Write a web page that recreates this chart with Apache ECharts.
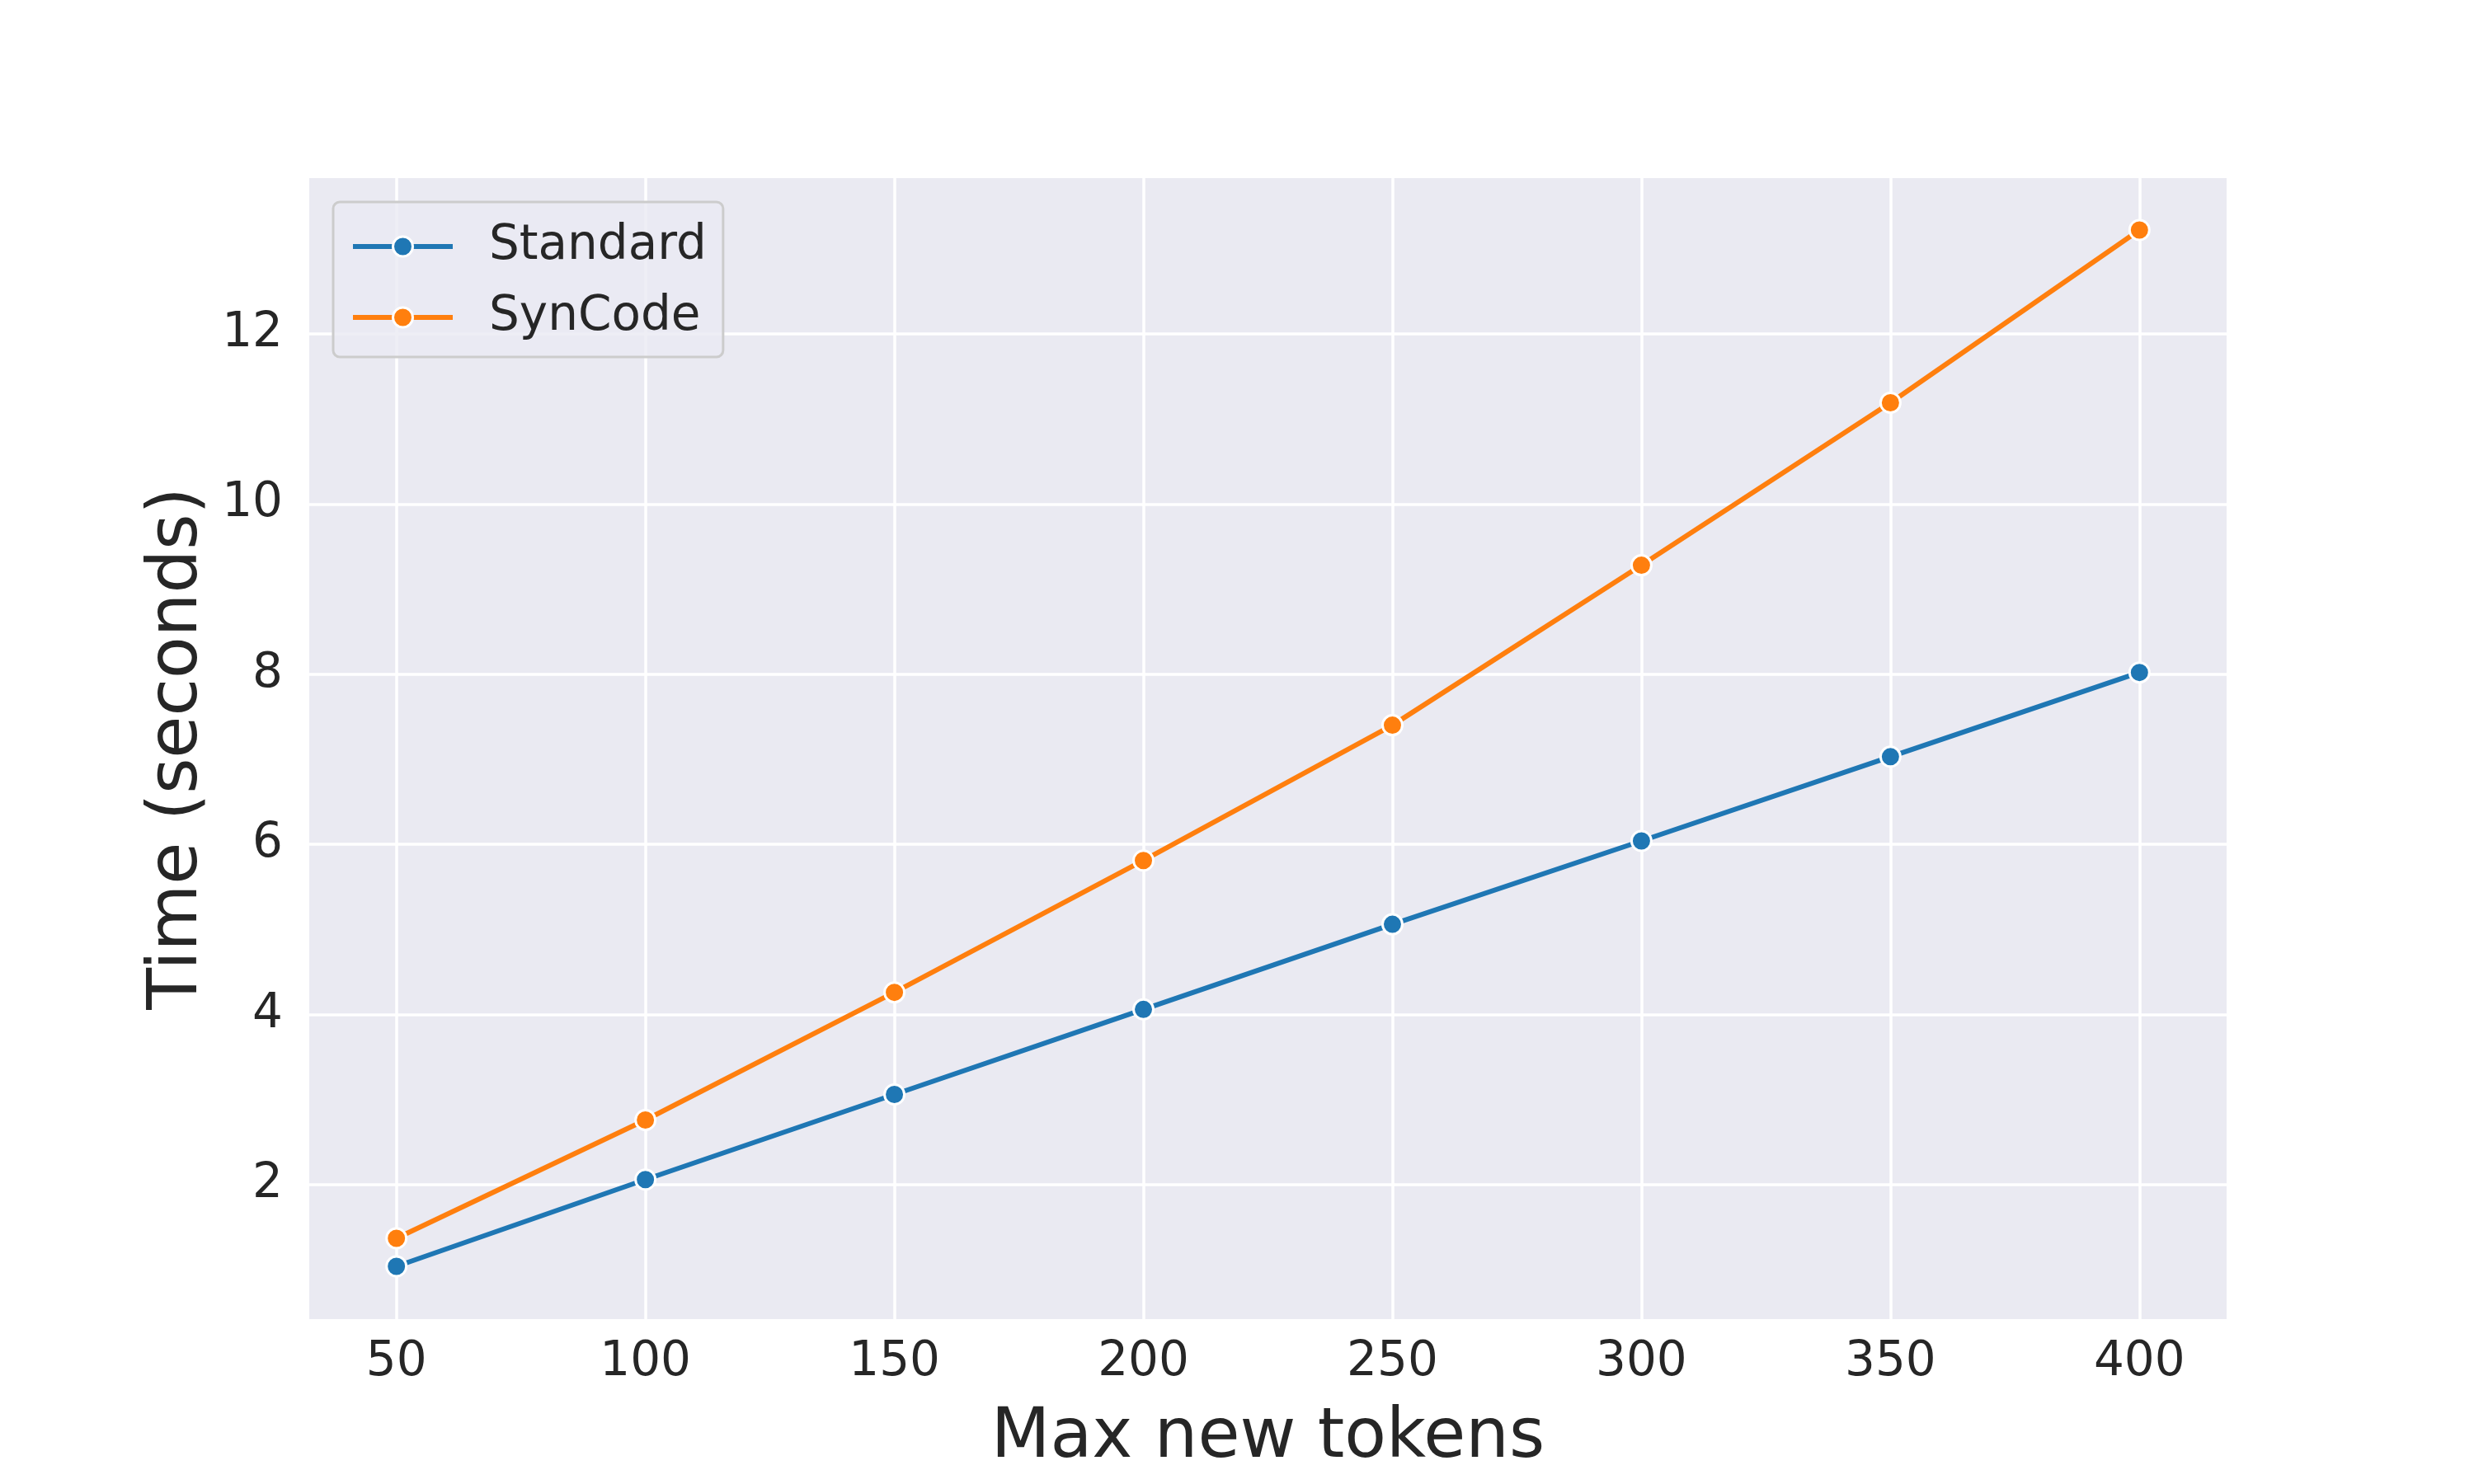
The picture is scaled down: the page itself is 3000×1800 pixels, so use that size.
<!DOCTYPE html>
<html>
<head>
<meta charset="utf-8">
<script src="https://cdn.jsdelivr.net/npm/echarts@6/dist/echarts.min.js"></script>
<style>
  html, body { margin: 0; padding: 0; background: #fff; }
  #chart { width: 3000px; height: 1800px; }
</style>
</head>
<body>
<div id="chart"></div>
<script>
// max new tokens on the x axis
const tokens = [50, 100, 150, 200, 250, 300, 350, 400]
// time in seconds
const standardTimes = [1.04, 2.06, 3.06, 4.06, 5.06, 6.04, 7.03, 8.02]
const syncodeTimes = [1.37, 2.76, 4.26, 5.81, 7.40, 9.28, 11.19, 13.22]
const xTicks = [50, 100, 150, 200, 250, 300, 350, 400]
const yTicks = [2, 4, 6, 8, 10, 12]

const font = 'DejaVu Sans'
const textColor = '#262626'

function pairs(xs, ys) {
  return xs.map((x, i) => [x, ys[i]])
}

function makeLine(name, color, values) {
  return {
    name: name,
    type: 'line',
    data: pairs(tokens, values),
    symbol: 'circle',
    symbolSize: 24,
    showSymbol: true,
    color: color,
    lineStyle: { width: 6, color: color },
    itemStyle: { color: color, borderColor: '#ffffff', borderWidth: 3 },
    emphasis: { disabled: true },
    z: 3
  }
}

const chart = echarts.init(document.getElementById('chart'), null, { renderer: 'canvas' })

const option = {
  animation: false,
  backgroundColor: '#ffffff',
  textStyle: { fontFamily: font },
  grid: {
    left: 375,
    right: 300,
    top: 216,
    bottom: 200,
    show: true,
    backgroundColor: '#eaeaf2',
    borderWidth: 0
  },
  legend: {
    left: 404,
    top: 245,
    orient: 'vertical',
    backgroundColor: 'rgba(234,234,242,0.8)',
    borderColor: '#cccccc',
    borderWidth: 3,
    borderRadius: 8,
    padding: [24, 20, 18, 21],
    itemWidth: 121,
    itemHeight: 30,
    itemGap: 26,
    lineStyle: { width: 6 },
    itemStyle: { borderColor: '#ffffff', borderWidth: 3 },
    textStyle: {
      fontFamily: font,
      fontSize: 58,
      color: textColor,
      lineHeight: 60,
      padding: [0, 0, 0, 39]
    },
    data: ['Standard', 'SynCode']
  },
  xAxis: {
    type: 'value',
    min: 32.5,
    max: 417.5,
    name: 'Max new tokens',
    nameLocation: 'middle',
    nameGap: 104,
    nameTextStyle: { fontFamily: font, fontSize: 83, color: textColor },
    axisLine: { show: false },
    axisTick: { show: false, customValues: xTicks },
    axisLabel: {
      customValues: xTicks,
      margin: 24,
      fontFamily: font,
      fontSize: 58,
      color: textColor
    },
    splitLine: { show: true, lineStyle: { color: '#ffffff', width: 3.5 } }
  },
  yAxis: {
    type: 'value',
    min: 0.42,
    max: 13.83,
    name: 'Time (seconds)',
    nameLocation: 'middle',
    nameGap: 117,
    nameTextStyle: { fontFamily: font, fontSize: 83, color: textColor },
    axisLine: { show: false },
    axisTick: { show: false, customValues: yTicks },
    axisLabel: {
      customValues: yTicks,
      margin: 32,
      fontFamily: font,
      fontSize: 58,
      color: textColor
    },
    splitLine: { show: true, lineStyle: { color: '#ffffff', width: 3.5 } }
  },
  series: [
    makeLine('Standard', '#1f77b4', standardTimes),
    makeLine('SynCode', '#ff7f0e', syncodeTimes)
  ]
}

chart.setOption(option)
</script>
</body>
</html>
